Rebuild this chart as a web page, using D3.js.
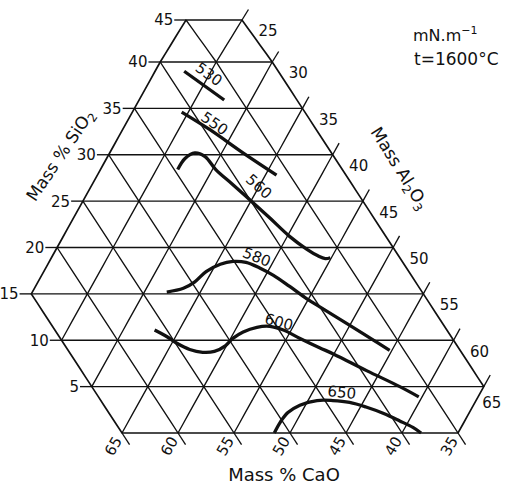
<!DOCTYPE html>
<html>
<head>
<meta charset="utf-8">
<script src="https://cdn.jsdelivr.net/npm/d3@7"></script>
<style>
  html, body { margin: 0; padding: 0; background: #fff; }
  svg { display: block; }
  text { font-family: "DejaVu Sans", sans-serif; fill: #111; }
</style>
</head>
<body>
<svg id="chart" width="511" height="486"></svg>
<script>
// Section of the CaO–Al2O3–SiO2 ternary (mass %): SiO2 0–45, Al2O3 20–65, CaO 30–65
const sio2Ticks  = [5, 10, 15, 20, 25, 30, 35, 40, 45];
const al2o3Ticks = [25, 30, 35, 40, 45, 50, 55, 60, 65];
const caoTicks   = [65, 60, 55, 50, 45, 40, 35];

// Iso-surface-tension lines (mN/m at 1600 °C); points are [CaO, SiO2] in mass %
const iso530 = [[38.4, 39.0], [36.5, 35.9]];
const iso550 = [[41.0, 34.6], [39.5, 32.7], [37.9, 30.2], [36.2, 27.8]];
const iso560 = [[44.7, 28.4], [43.4, 29.6], [42.2, 30.2], [41.5, 29.8], [41.3, 28.4],
                [40.7, 26.9], [40.0, 25.1], [39.3, 23.2], [38.6, 21.2], [37.8, 19.8],
                [37.2, 19.1], [36.7, 18.8], [36.2, 18.9]];
const iso580 = [[52.8, 15.2], [51.1, 15.6], [49.7, 16.3], [48.1, 17.4], [46.4, 18.2],
                [45.1, 18.5], [44.0, 18.4], [43.1, 17.8], [42.3, 17.0], [41.5, 15.8],
                [40.7, 14.5], [40.0, 13.6], [38.4, 11.6], [37.3, 10.2], [36.3, 8.9]];
const iso600 = [[56.1, 11.1], [55.4, 10.4], [54.9, 9.7], [54.1, 9.0], [53.1, 8.7],
                [52.0, 8.8], [50.7, 9.4], [49.6, 10.2], [48.3, 10.9], [46.8, 11.4],
                [45.6, 11.5], [44.6, 11.1], [43.6, 10.2], [42.4, 9.2], [41.5, 8.5],
                [39.5, 6.7], [37.5, 5.0], [36.4, 3.9]];
const iso650 = [[51.4, 0.0], [50.2, 1.2], [49.0, 2.2], [47.5, 3.0], [45.7, 3.5],
                [44.3, 3.5], [42.9, 3.3], [41.7, 2.8], [40.5, 2.1], [39.5, 1.3],
                [38.7, 0.6], [38.3, 0.0]];

const isoValues  = [530, 550, 560, 580, 600, 650];
const isoCurves  = [iso530, iso550, iso560, iso580, iso600, iso650];
// where each value is written, [CaO, SiO2]
const isoLabelAt = [[36.35, 38.7], [38.7, 33.4], [38.4, 26.6], [42.7, 19.0], [44.5, 12.0], [43.0, 4.4]];

const svg = d3.select("#chart");
const INK = "#111";

// ---- ternary projection -------------------------------------------------
const yScale = d3.scaleLinear().domain([0, 40, 45]).range([433, 62, 20]);   // SiO2 -> height
const xBase  = d3.scaleLinear().domain([35, 65]).range([122, 458]);         // Al2O3 along the SiO2 = 0 base
const lean   = d3.scaleLinear().domain([0, 45]).range([0, 232]);            // sideways shift with SiO2

function P(cao, sio2) {
  const al = 100 - cao - sio2;
  return [xBase(al) + lean(sio2), yScale(sio2)];
}

// sample a composition path parameterised by SiO2 (keeps straight lines exact across the scale's break)
function alongS(s0, s1, f) {
  const n = Math.max(1, Math.ceil(Math.abs(s1 - s0)));
  return d3.range(n + 1).map(i => f(s0 + (s1 - s0) * i / n));
}

const path = d3.line();

// ---- grid -----------------------------------------------------------------
const grid = svg.append("g").attr("fill", "none").attr("stroke", INK).attr("stroke-width", 1.35);

// constant SiO2 (horizontal)
d3.range(5, 45, 5).forEach(s => {
  const aMin = Math.max(20, 35 - s), aMax = Math.min(65, 70 - s);
  grid.append("path").attr("d", path([P(100 - s - aMin, s), P(100 - s - aMax, s)]));
});
// constant Al2O3
d3.range(25, 65, 5).forEach(a => {
  const s0 = Math.max(0, 35 - a), s1 = Math.min(45, 70 - a);
  grid.append("path").attr("d", path(alongS(s0, s1, s => P(100 - a - s, s))));
});
// constant CaO
d3.range(35, 65, 5).forEach(c => {
  const s0 = Math.max(0, 35 - c), s1 = Math.min(45, 80 - c);
  grid.append("path").attr("d", path(alongS(s0, s1, s => P(c, s))));
});

// ---- outline ----------------------------------------------------------------
const outline = [].concat(
  [P(35, 45), P(30, 45)],
  alongS(45, 5, s => P(30, s)),
  alongS(5, 0, s => P(35 - s, s)),
  [P(65, 0)],
  alongS(0, 15, s => P(65, s)),
  alongS(15, 45, s => P(80 - s, s))
);
svg.append("path").attr("d", path(outline) + "Z")
  .attr("fill", "none").attr("stroke", INK).attr("stroke-width", 1.7).attr("stroke-linejoin", "miter");

// ---- ticks and tick labels ------------------------------------------------------
const ticks = svg.append("g").attr("stroke", INK).attr("stroke-width", 1.35);
const tickText = svg.append("g").attr("font-size", 15);

sio2Ticks.forEach(s => {
  const a = Math.max(20, 35 - s);
  const p0 = P(100 - s - a, s), p1 = P(100 - s - a + 1.05, s);
  ticks.append("line").attr("x1", p0[0]).attr("y1", p0[1]).attr("x2", p1[0]).attr("y2", p1[1]);
  tickText.append("text").attr("x", p1[0] - 1).attr("y", p1[1]).attr("dy", "0.36em")
    .attr("text-anchor", "end").text(s);
});

al2o3Ticks.forEach(a => {
  const s = 70 - a;
  const p0 = P(30, s), p1 = P(30 - 1.25, s + 1.25);
  ticks.append("line").attr("x1", p0[0]).attr("y1", p0[1]).attr("x2", p1[0]).attr("y2", p1[1]);
  const off = a === 65 ? [8, 16] : [26, 11];
  tickText.append("text").attr("x", p0[0] + off[0]).attr("y", p0[1] + off[1]).attr("dy", "0.36em")
    .attr("text-anchor", "middle").text(a);
});

caoTicks.forEach(c => {
  const p0 = P(c, 0), p1 = P(c, -1.25);
  ticks.append("line").attr("x1", p0[0]).attr("y1", p0[1]).attr("x2", p1[0]).attr("y2", p1[1]);
  tickText.append("text")
    .attr("transform", `translate(${p0[0] - 9},${p0[1] + 13}) rotate(-60)`)
    .attr("dy", "0.36em").attr("text-anchor", "middle").text(c);
});

// ---- iso-lines ------------------------------------------------------------------
const smooth = d3.line().curve(d3.curveCatmullRom.alpha(0.5));
const isoG = svg.append("g");

function segAngle(pts, q) {
  let best = Infinity, ang = 0;
  for (let i = 0; i < pts.length - 1; i++) {
    const a = pts[i], b = pts[i + 1];
    const dx = b[0] - a[0], dy = b[1] - a[1];
    const t = Math.max(0, Math.min(1, ((q[0] - a[0]) * dx + (q[1] - a[1]) * dy) / (dx * dx + dy * dy)));
    const d = Math.hypot(a[0] + t * dx - q[0], a[1] + t * dy - q[1]);
    if (d < best) { best = d; ang = Math.atan2(dy, dx) * 180 / Math.PI; }
  }
  return ang;
}

isoCurves.forEach((curve, i) => {
  const pts = curve.map(d => P(d[0], d[1]));
  isoG.append("path").attr("d", smooth(pts))
    .attr("fill", "none").attr("stroke", INK).attr("stroke-width", 3.3)
    .attr("stroke-linecap", "butt").attr("stroke-linejoin", "round");
  const q = P(isoLabelAt[i][0], isoLabelAt[i][1]);
  const ang = segAngle(pts, q);
  isoG.append("text")
    .attr("transform", `translate(${q[0]},${q[1]}) rotate(${ang})`)
    .attr("dy", "0.36em").attr("text-anchor", "middle").attr("font-size", 15)
    .text(isoValues[i]);
});

// ---- axis titles ------------------------------------------------------------------
const titleSi = svg.append("text").attr("font-size", 17).attr("text-anchor", "middle")
  .attr("transform", "translate(60,155) rotate(-56)").attr("dy", "0.36em");
titleSi.append("tspan").text("Mass % SiO");
titleSi.append("tspan").attr("font-size", 12).attr("dy", 4).text("2");

const titleAl = svg.append("text").attr("font-size", 17).attr("text-anchor", "middle")
  .attr("transform", "translate(400,168) rotate(58)").attr("dy", "0.36em");
titleAl.append("tspan").text("Mass Al");
titleAl.append("tspan").attr("font-size", 12).attr("dy", 4).text("2");
titleAl.append("tspan").attr("dy", -4).text("O");
titleAl.append("tspan").attr("font-size", 12).attr("dy", 4).text("3");

svg.append("text").attr("font-size", 18).attr("text-anchor", "middle")
  .attr("x", 284).attr("y", 481).text("Mass % CaO");

// ---- unit and temperature note ---------------------------------------------------------
const unit = svg.append("text").attr("x", 413).attr("y", 41).attr("font-size", 16);
unit.append("tspan").text("mN.m");
unit.append("tspan").attr("font-size", 11).attr("dy", -7).text("−1");
svg.append("text").attr("x", 414).attr("y", 65).attr("font-size", 17).text("t=1600°C");
</script>
</body>
</html>
